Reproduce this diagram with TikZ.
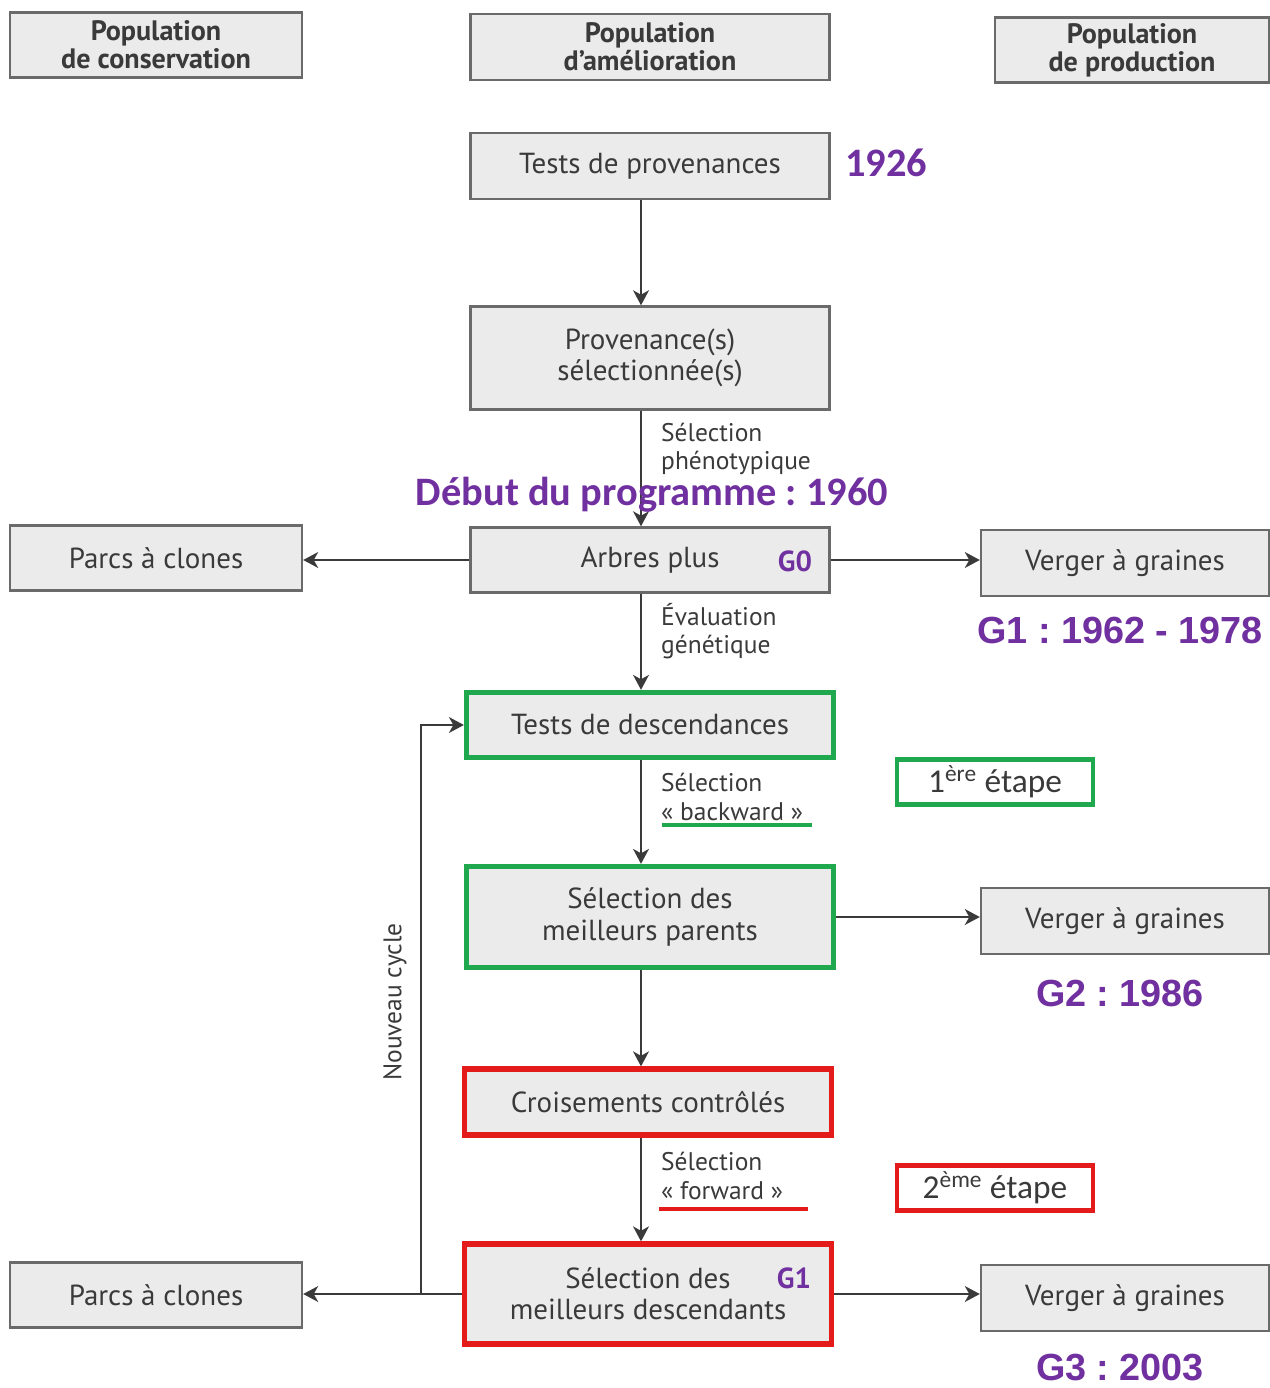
\documentclass[tikz,border=0pt]{standalone}
\usepackage{fontspec}
\usepackage{xcolor}
\usepackage{tikz}
\usetikzlibrary{arrows.meta}
\setmainfont{PT Sans}
\newfontfamily\yearfont{Carlito}
\newfontfamily\genfont{Liberation Sans}
\frenchspacing

\definecolor{purp}{HTML}{7030A0}
\definecolor{grn}{HTML}{1FA84E}
\definecolor{rd}{HTML}{E31B1B}
\definecolor{boxfill}{HTML}{EBEBEB}
\definecolor{boxline}{HTML}{6A6A6A}
\definecolor{ink}{HTML}{3A3A3A}

\tikzset{
  box/.style={draw=boxline, fill=boxfill, line width=1.4pt, text=ink, align=center,
    inner sep=0pt, font=\fontsize{16.5}{17.8}\selectfont},
  header/.style={box, font=\bfseries\fontsize{16}{16}\selectfont},
  greenbox/.style={box, draw=grn, line width=3pt},
  redbox/.style={box, draw=rd, line width=3pt},
  arr/.style={draw=ink, line width=1.3pt, -{Stealth[length=8.5pt, width=9pt, inset=2.5pt]}},
  note/.style={anchor=west, align=left, text=ink, font=\fontsize{14.5}{16}\selectfont},
  year/.style={text=purp, font=\yearfont\bfseries\fontsize{23}{24}\selectfont},
  gen/.style={text=purp, font=\genfont\bfseries\fontsize{21.5}{24}\selectfont},
  gtag/.style={text=purp, font=\bfseries\fontsize{16.5}{17}\selectfont},
}

\begin{document}
\begin{tikzpicture}[x=0.02cm, y=-0.02cm]
    \useasboundingbox (0,0) rectangle (1269,1388);

    % three populations
    \node[header, minimum width=5.84cm, minimum height=1.3cm] (hcons) at (156,45) {Population\\de conservation};
    \node[header, minimum width=7.18cm, minimum height=1.32cm] (hamel) at (650,47) {Population\\d’amélioration};
    \node[header, minimum width=5.48cm, minimum height=1.3cm] (hprod) at (1132,50) {Population\\de production};

    % main column
    \node[box, minimum width=7.18cm, minimum height=1.32cm] (tprov) at (650,166) {Tests de provenances};
    \node[box, minimum width=7.18cm, minimum height=2.06cm] (provsel) at (650,358) {Provenance(s)\\sélectionnée(s)};
    \node[box, minimum width=7.18cm, minimum height=1.3cm] (arbres) at (650,560) {Arbres plus};
    \node[greenbox, minimum width=7.34cm, minimum height=1.3cm] (tdesc) at (650,725) {Tests de descendances};
    \node[greenbox, minimum width=7.34cm, minimum height=2.02cm] (selpar) at (650,917) {Sélection des\\meilleurs parents};
    \node[redbox, minimum width=7.34cm, minimum height=1.32cm] (crois) at (648,1102) {Croisements contrôlés};
    \node[redbox, minimum width=7.34cm, minimum height=2cm] (seldesc) at (648,1294) {Sélection des\\meilleurs descendants};

    % side boxes
    \node[box, minimum width=5.84cm, minimum height=1.3cm] (parcsA) at (156,558) {Parcs à clones};
    \node[box, minimum width=5.84cm, minimum height=1.3cm] (parcsB) at (156,1295) {Parcs à clones};
    \node[box, minimum width=5.76cm, minimum height=1.32cm] (vergerA) at (1125,563) {Verger à graines};
    \node[box, minimum width=5.76cm, minimum height=1.32cm] (vergerB) at (1125,921) {Verger à graines};
    \node[box, minimum width=5.76cm, minimum height=1.32cm] (vergerC) at (1125,1298) {Verger à graines};

    % steps
    \node[greenbox, fill=white, line width=2.5pt, minimum width=3.92cm, minimum height=0.9cm,
      font=\yearfont\fontsize{19}{20}\selectfont] (etapeA) at (995,782) {1\textsuperscript{ère} étape};
    \node[redbox, fill=white, line width=2.5pt, minimum width=3.92cm, minimum height=0.9cm,
      font=\yearfont\fontsize{19}{20}\selectfont] (etapeB) at (995,1188) {2\textsuperscript{ème} étape};

    % arrows
    \coordinate (col) at (641,0);
    \draw[arr] (tprov.south -| col) -- (provsel.north -| col);
    \draw[arr] (provsel.south -| col) -- (arbres.north -| col);
    \draw[arr] (arbres.south -| col) -- (tdesc.north -| col);
    \draw[arr] (tdesc.south -| col) -- (selpar.north -| col);
    \draw[arr] (selpar.south -| col) -- (crois.north -| col);
    \draw[arr] (crois.south -| col) -- (seldesc.north -| col);
    \draw[arr] (arbres.west) -- (parcsA.east |- arbres.west);
    \draw[arr] (arbres.east) -- (vergerA.west |- arbres.east);
    \draw[arr] (selpar.east) -- (vergerB.west |- selpar.east);
    \draw[arr] (seldesc.east) -- (vergerC.west |- seldesc.east);
    \draw[arr] (seldesc.west) -- (parcsB.east |- seldesc.west);
    \coordinate (loop) at (421,1294);
    \draw[arr] (loop) |- (tdesc.west);

    % arrow labels
    \node[note] (nphen) at (655,449) {Sélection\\phénotypique};
    \node[note] (neval) at (655,631) {Évaluation\\génétique};
    \node[note] (nback) at (655,797) {Sélection\\« backward »};
    \node[note] (nfwd) at (655,1176) {Sélection\\« forward »};
    \draw[grn, line width=2.2pt] (662,825) -- (812,825);
    \draw[rd, line width=2.2pt] (659,1209) -- (808,1209);
    \node[rotate=90, text=ink, font=\fontsize{14.5}{15}\selectfont] (ncycle) at (395,1002) {Nouveau cycle};

    % dates and generations
    \node[year, anchor=west] (ystart) at (839,163) {1926};
    \node[year] (yprog) at (652,495) {Début du programme : 1960};
    \node[gtag] (gzero) at (795,561) {G0};
    \node[gtag] (gone) at (794,1278) {G1};
    \node[gen] (genA) at (1120,630) {G1 : 1962 - 1978};
    \node[gen] (genB) at (1120,993) {G2 : 1986};
    \node[gen] (genC) at (1120,1368) {G3 : 2003};
\end{tikzpicture}
\end{document}
